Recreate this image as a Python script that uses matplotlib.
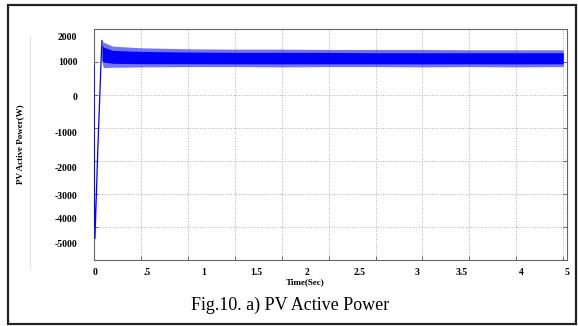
import matplotlib.pyplot as plt
from matplotlib.patches import Rectangle
from matplotlib.lines import Line2D

# start-up transient of the PV active power (W)
t_start = [0.0, 0.004, 0.010, 0.040, 0.075, 0.085]
p_start = [900, -3000, -4350, -1700, 1000, 1650]

# ripple band after start-up: outer spikes and dense core
t_band = [0.085, 0.1, 0.2, 0.5, 1.0, 1.5, 2.0, 2.5, 3.0, 3.5, 4.0, 4.5, 5.0]
band_hi = [1650, 1600, 1480, 1430, 1400, 1390, 1390, 1380, 1380, 1380, 1370, 1370, 1370]
band_lo = [1000, 830, 840, 850, 860, 860, 850, 860, 860, 850, 860, 850, 860]
core_hi = [1550, 1450, 1350, 1320, 1300, 1290, 1290, 1290, 1280, 1280, 1280, 1280, 1280]
core_lo = [1050, 1000, 960, 950, 950, 945, 945, 945, 945, 945, 945, 945, 945]

x_grid = [0, 0.5, 1, 1.5, 2, 2.5, 3, 3.5, 4, 4.5, 5]
y_grid = [-5000, -4000, -3000, -2000, -1000, 0, 1000, 2000]
# tick labels sit slightly off the grid in the scanned figure
x_lab_pos = [0.01, 0.57, 1.17, 1.73, 2.27, 2.83, 3.44, 3.92, 4.55, 5.04]
x_lab = ["0", ".5", "1", "1.5", "2", "2.5", "3", "3.5", "4", "5"]
y_lab_pos = [1760, 1030, -55, -1140, -2200, -3045, -3740, -4495]
y_lab = ["2000", "1000", "0", "-1000", "-2000", "-3000", "-4000", "-5000"]

blue = "#0000ff"
serif = "Liberation Serif"

fig = plt.figure(figsize=(5.78, 3.26), dpi=100)
ax = fig.add_axes([94 / 578, 1 - 260 / 326, 473 / 578, 231 / 326])
ax.set_axisbelow(True)

ax.fill_between(t_band, band_lo, band_hi, color=blue, alpha=0.55, lw=0, zorder=3)
ax.fill_between(t_band, core_lo, core_hi, color=blue, lw=0, zorder=3)
ax.plot(t_start, p_start, color=blue, lw=0.9, zorder=3)

ax.set_xlim(0, 5)
ax.set_ylim(-5000, 2000)

ax.set_xticks(x_grid)
ax.set_yticks(y_grid)
ax.set_xticklabels([])
ax.set_yticklabels([])
ax.set_xticks(x_lab_pos, minor=True)
ax.set_xticklabels(x_lab, minor=True, fontfamily=serif, fontweight="bold", fontsize=7)
ax.set_yticks(y_lab_pos, minor=True)
ax.set_yticklabels(y_lab, minor=True, fontfamily=serif, fontweight="bold", fontsize=7)
ax.tick_params(which="major", direction="in", length=3, color="#555555",
               top=False, right=True, width=0.6)
ax.tick_params(which="minor", length=0)
ax.tick_params(axis="x", which="minor", pad=6)
ax.tick_params(axis="y", which="minor", pad=12)

ax.grid(True, which="major", linestyle=":", color="#b0b0b0", lw=0.7)
for s in ax.spines.values():
    s.set_color("#666666")
    s.set_linewidth(0.8)

ax.set_ylabel("PV Active Power(W)", fontfamily=serif, fontweight="bold", fontsize=6.5)
ax.yaxis.set_label_coords(-0.148, 0.5)
fig.text(305 / 578, 1 - 282 / 326, "Time(Sec)", fontfamily=serif, fontweight="bold",
         fontsize=6.5, ha="center", va="center")

fig.text(290 / 578, 1 - 305 / 326, "Fig.10. a) PV Active Power", fontfamily=serif,
         fontsize=13, ha="center", va="center")

# faint inner edge of the scanned plot and the outer frame
fig.add_artist(Line2D([30 / 578, 30 / 578], [1 - 268 / 326, 1 - 36 / 326],
                      transform=fig.transFigure, color="#e0e0e0", lw=0.8))
fig.add_artist(Rectangle((8 / 578, 2 / 326), 568 / 578, 319 / 326, transform=fig.transFigure,
                         fill=False, edgecolor="#222222", lw=1.6))

fig.savefig("out.png", dpi=100)
